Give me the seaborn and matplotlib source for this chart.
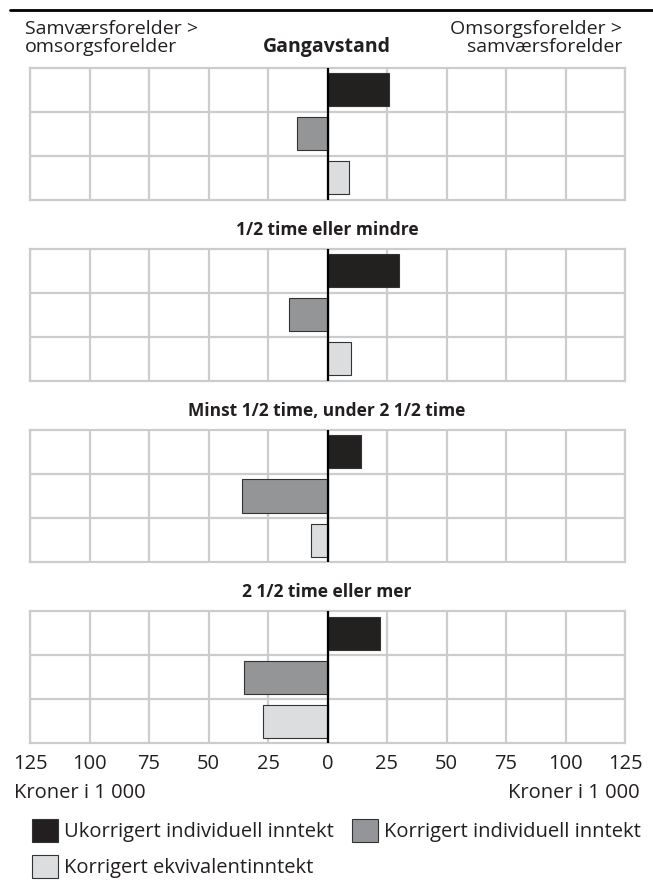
import matplotlib
matplotlib.use("Agg")
import matplotlib.pyplot as plt
import matplotlib.patches as mpatches
from matplotlib.lines import Line2D
import seaborn as sns
import pandas as pd

# ---- data ----
panel_titles = ["Gangavstand", "1/2 time eller mindre",
                "Minst 1/2 time, under 2 1/2 time", "2 1/2 time eller mer"]
series = ["Ukorrigert individuell inntekt", "Korrigert individuell inntekt",
          "Korrigert ekvivalentinntekt"]
ukorrigert = [26, 30, 14, 22]
korrigert_ind = [-13, -16, -36, -35]
korrigert_ekv = [9, 10, -7, -27]
tick_values = [-125, -100, -75, -50, -25, 0, 25, 50, 75, 100, 125]
tick_labels = ["125", "100", "75", "50", "25", "0", "25", "50", "75", "100", "125"]
colors = ["#231f20", "#939598", "#dcdddf"]

sns.set_theme(style="white")
plt.rcParams["font.family"] = ["Open Sans", "DejaVu Sans"]

W, H = 653, 880
fig = plt.figure(figsize=(W / 100, H / 100), dpi=100)

def fx(px):
    return px / W

def fy(py):
    return 1 - py / H

left, right = 30, 625
panel_tops = [68, 249, 430, 611]
panel_h = 132
grid_c = "#cccccc"
txt_c = "#231f20"

values = [ukorrigert, korrigert_ind, korrigert_ekv]
for i, top in enumerate(panel_tops):
    ax = fig.add_axes([fx(left), fy(top + panel_h), fx(right - left), panel_h / H])
    df = pd.DataFrame({"serie": series, "value": [v[i] for v in values]})
    for x in tick_values:
        ax.axvline(x, color=grid_c, lw=1.6, zorder=0)
    for y in [0.5, 1.5]:
        ax.axhline(y, color=grid_c, lw=1.6, zorder=0)
    sns.barplot(data=df, x="value", y="serie", hue="serie", palette=colors,
                orient="h", width=0.75, edgecolor="#333333", linewidth=0.8,
                legend=False, ax=ax, zorder=2)
    ax.axvline(0, color="black", lw=1.6, zorder=3)
    ax.set_xlim(-125, 125)
    ax.set_ylim(2.5, -0.5)
    ax.set_xlabel("")
    ax.set_ylabel("")
    ax.set_yticks([])
    ax.set_xticks(tick_values)
    for s in ax.spines.values():
        s.set_color(grid_c)
        s.set_linewidth(1.6)
        s.set_zorder(0)
    if i == 3:
        ax.set_xticklabels(tick_labels, fontsize=14.5, color=txt_c)
        ax.tick_params(axis="x", length=0, pad=8)
    else:
        ax.set_xticklabels([])
        ax.tick_params(axis="x", length=0)
    if i == 0:
        fig.text(fx(327), fy(47), panel_titles[i], ha="center", va="center",
                 fontsize=14, fontweight="bold", color=txt_c)
    else:
        fig.text(fx(327), fy(top - 19), panel_titles[i], ha="center", va="center",
                 fontsize=12.5, fontweight="bold", color=txt_c)

# header
fig.add_artist(Line2D([fx(10), 1.0], [fy(10), fy(10)], color="black", lw=2))
fig.text(fx(25), fy(38), "Samværsforelder >\nomsorgsforelder", ha="left", va="center",
         fontsize=14, color=txt_c, linespacing=0.95)
fig.text(fx(622), fy(38), "Omsorgsforelder >\nsamværsforelder", ha="right", va="center",
         fontsize=14, color=txt_c, linespacing=0.95, multialignment="right")

# axis unit labels
fig.text(fx(14), fy(793), "Kroner i 1 000", ha="left", va="center", fontsize=14.5, color=txt_c)
fig.text(fx(640), fy(793), "Kroner i 1 000", ha="right", va="center", fontsize=14.5, color=txt_c)

# legend
handles = [mpatches.Patch(facecolor=c, edgecolor="#333333", linewidth=0.8) for c in colors]
order = [0, 2, 1]
leg = fig.legend([handles[k] for k in order], [series[k] for k in order],
                 ncol=2, loc="upper left", bbox_to_anchor=(fx(32), fy(819)),
                 frameon=False, fontsize=14.5, handlelength=1.3, handleheight=1.35,
                 handletextpad=0.3, columnspacing=0.9, labelspacing=0.65,
                 borderaxespad=0, borderpad=0)
for t in leg.get_texts():
    t.set_color(txt_c)

fig.savefig("out.png", dpi=100)
